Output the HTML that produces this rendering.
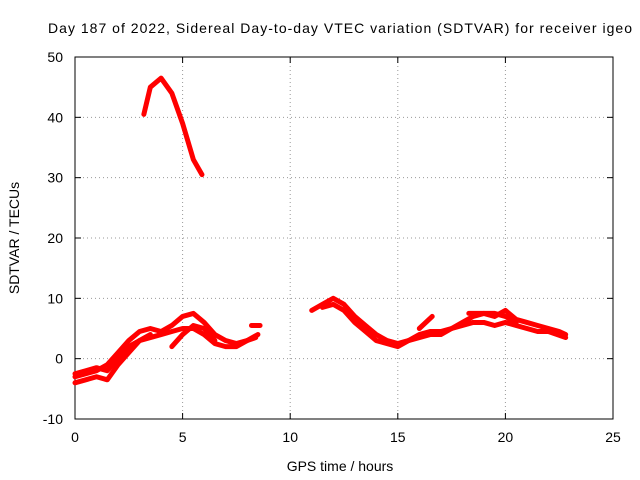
<!DOCTYPE html>
<html><head><meta charset="utf-8"><style>
body{margin:0;background:#fff}
svg{display:block;font-family:"Liberation Sans",sans-serif}
</style></head><body>
<svg id="chart" width="640" height="480" viewBox="0 0 640 480">
<text x="48" y="33" font-size="14" textLength="584" lengthAdjust="spacing">Day 187 of 2022, Sidereal Day-to-day VTEC variation (SDTVAR) for receiver igeo</text>
<text x="340" y="471" font-size="14" text-anchor="middle">GPS time / hours</text>
<text x="19" y="238" font-size="14" text-anchor="middle" transform="rotate(-90 19 238)">SDTVAR / TECUs</text>
<g id="grid"></g><g id="axes"></g><g id="series"></g>
</svg>
<script>
const xTicks=[0,5,10,15,20,25];
const yTicks=[-10,0,10,20,30,40,50];
const s1x=[3.2,3.5,4,4.5,5,5.5,5.9];
const s1y=[40.5,45,46.5,44,39,33,30.5];
const s2x=[0,0.5,1,1.5,2,2.5,3,3.5,4,4.5,5,5.5,6,6.5,7,7.5,8,8.4];
const s2y=[-3,-2.5,-2,-1,1,3,4.5,5,4.5,5.5,7,7.5,6,4,3,2.5,3,3.5];
const s3x=[0,0.5,1,1.5,2,2.5,3,3.5,4,4.5,5,5.5,6,6.5,7,7.5,8,8.5];
const s3y=[-4,-3.5,-3,-3.5,-1,1,3,3.5,4,4.5,5,5,4,2.5,2,2,3,4];
const s4x=[0,0.5,1,1.5,2,2.5,3,3.5];
const s4y=[-2.5,-2,-1.5,-2,0,2,3,4];
const s5x=[4.5,5,5.5,6,6.5];
const s5y=[2,4,5.5,5,3];
const s6x=[8.2,8.6];
const s6y=[5.5,5.5];
const s7x=[11,11.5,12,12.5,13,13.5,14,14.5,15,15.5,16,16.5,17,17.5,18,18.5,19,19.5,20,20.5,21,21.5,22,22.5,22.8];
const s7y=[8,9,10,9,7,5.5,4,3,2.5,3,4,4.5,4.5,5,6,7,7.5,7,8,6.5,6,5.5,5,4.5,4];
const s8x=[11.5,12,12.5,13,13.5,14,14.5,15,15.5,16,16.5,17,17.5,18,18.5,19,19.5,20,20.5,21,21.5,22,22.8];
const s8y=[8.5,9,8,6,4.5,3,2.5,2,3,3.5,4,4,5,5.5,6,6,5.5,6,5.5,5,4.5,4.5,3.5];
const s9x=[16,16.6];
const s9y=[5,7];
const s10x=[18.3,19,19.5,20,20.5];
const s10y=[7.5,7.5,7.5,7,6];
const allX=[s1x,s2x,s3x,s4x,s5x,s6x,s7x,s8x,s9x,s10x];
const allY=[s1y,s2y,s3y,s4y,s5y,s6y,s7y,s8y,s9y,s10y];
const X0=75,X1=613,Y0=419,Y1=57;
const sx=v=>X0+(v-0)/(25-0)*(X1-X0);
const sy=v=>Y0-(v+10)/(60)*(Y0-Y1);
const NS="http://www.w3.org/2000/svg";
function mk(t,a,p){const e=document.createElementNS(NS,t);for(const k in a)e.setAttribute(k,a[k]);p.appendChild(e);return e;}
const grid=document.getElementById('grid'),axes=document.getElementById('axes'),ser=document.getElementById('series');
xTicks.forEach(v=>{const x=sx(v);
 if(v>0&&v<25){const g=mk('line',{x1:x,x2:x,y1:Y0,y2:Y1,stroke:'#999','stroke-dasharray':'1,3','stroke-width':1},grid);
 
 }
 mk('line',{x1:x,x2:x,y1:Y0,y2:Y0-6,stroke:'#000'},axes);
 mk('line',{x1:x,x2:x,y1:Y1,y2:Y1+6,stroke:'#000'},axes);
 const t=mk('text',{x:x,y:Y0+23,'font-size':14,'text-anchor':'middle'},axes);t.textContent=v;
 
 
});
yTicks.forEach(v=>{const y=sy(v);
 if(v>-10&&v<50){const g=mk('line',{x1:X0,x2:X1,y1:y,y2:y,stroke:'#999','stroke-dasharray':'1,3','stroke-width':1},grid);
 
 }
 mk('line',{x1:X0,x2:X0+6,y1:y,y2:y,stroke:'#000'},axes);
 mk('line',{x1:X1,x2:X1-6,y1:y,y2:y,stroke:'#000'},axes);
 const t=mk('text',{x:X0-12,y:y+5,'font-size':14,'text-anchor':'end'},axes);t.textContent=v;
 
 
});
const box=mk('rect',{x:X0,y:Y1,width:X1-X0,height:Y0-Y1,fill:'none',stroke:'#000'},axes);


allX.forEach((xs,i)=>{const ys=allY[i];
 const pts=xs.map((x,j)=>sx(x)+','+sy(ys[j])).join(' ');
 const p=mk('polyline',{points:pts,fill:'none',stroke:'#f00','stroke-width':5,'stroke-linejoin':'round','stroke-linecap':'round'},ser);
 
 
});
</script>
</body></html>
